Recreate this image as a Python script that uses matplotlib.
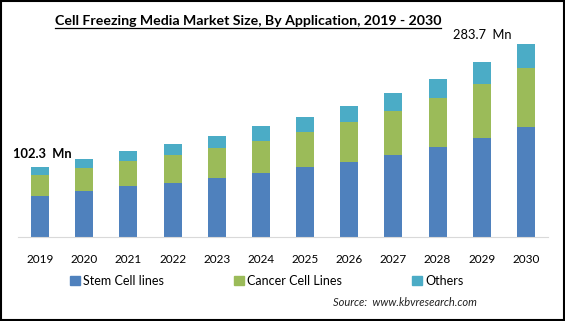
import numpy as np
import matplotlib
matplotlib.use("Agg")
import matplotlib.pyplot as plt
from matplotlib.patches import Patch, Rectangle
from matplotlib.lines import Line2D

plt.rcParams["font.family"] = ["Lato", "DejaVu Sans"]

years = [str(y) for y in range(2019, 2031)]
stem_cell = [61.0, 68.1, 75.4, 79.9, 87.2, 94.6, 102.5, 110.7, 120.6, 132.8, 146.0, 161.3]
cancer_cell = [29.5, 33.8, 36.3, 41.2, 43.7, 46.6, 52.4, 58.8, 65.1, 71.6, 79.0, 87.6]
others = [11.8, 13.2, 14.7, 15.7, 18.1, 21.5, 21.6, 23.5, 26.5, 28.4, 32.4, 34.8]
labels = ["Stem Cell lines", "Cancer Cell Lines", "Others"]
colors = ["#4F81BD", "#9BBB59", "#4BACC6"]

series = [np.array(stem_cell), np.array(cancer_cell), np.array(others)]
totals = sum(series)

fig = plt.figure(figsize=(5.65, 3.21), dpi=100)
ax = fig.add_axes([18 / 565, 84 / 321, 530 / 565, 204 / 321])

x = np.arange(len(years))
bottom = np.zeros(len(years))
for vals, col in zip(series, colors):
    ax.bar(x, vals, width=0.41, bottom=bottom, color=col, linewidth=0)
    bottom += vals

ax.set_xlim(-0.5, len(years) - 0.5)
ax.set_ylim(0, 300)
ax.set_yticks([])
for side in ["left", "right", "top"]:
    ax.spines[side].set_visible(False)
ax.spines["bottom"].set_color("#d9d9d9")
ax.set_xticks(x)
ax.set_xticklabels(years, fontsize=8.5)
ax.tick_params(axis="x", length=0, pad=12)

# value callouts for first and last year
ax.text(0.05, totals[0] + 11, f"{totals[0]:.1f}  Mn", ha="center", va="bottom",
        fontsize=9.3, fontweight="bold")
ax.text(len(years) - 1 - 0.98, totals[-1] + 4, f"{totals[-1]:.1f}  Mn", ha="center",
        va="bottom", fontsize=9.3)

handles = [Patch(color=c) for c in colors]
ax.legend(handles, labels, loc="upper left", bbox_to_anchor=(52 / 530, -0.185),
          ncol=3, frameon=False, fontsize=9, handlelength=0.8, handleheight=0.8,
          handletextpad=0.25, columnspacing=5.6, borderaxespad=0, borderpad=0)

fig.text(477 / 565, 1 - 302 / 321, "Source:  www.kbvresearch.com", ha="right",
         va="center", fontsize=8, style="italic", color="#222222")

title = fig.text(248 / 565, 1 - 21 / 321,
                 "Cell Freezing Media Market Size, By Application, 2019 - 2030",
                 ha="center", va="center", fontsize=10.2, fontweight="bold")

# underline the title
fig.canvas.draw()
bb = title.get_window_extent().transformed(fig.transFigure.inverted())
fig.add_artist(Line2D([bb.x0, bb.x1], [bb.y0 - 0.004, bb.y0 - 0.004],
                      transform=fig.transFigure, color="black", linewidth=0.9))

fig.add_artist(Rectangle((0.001, 0.002), 0.997, 0.995, transform=fig.transFigure,
                         fill=False, edgecolor="black", linewidth=1.5))

fig.savefig("out.png", dpi=100)
